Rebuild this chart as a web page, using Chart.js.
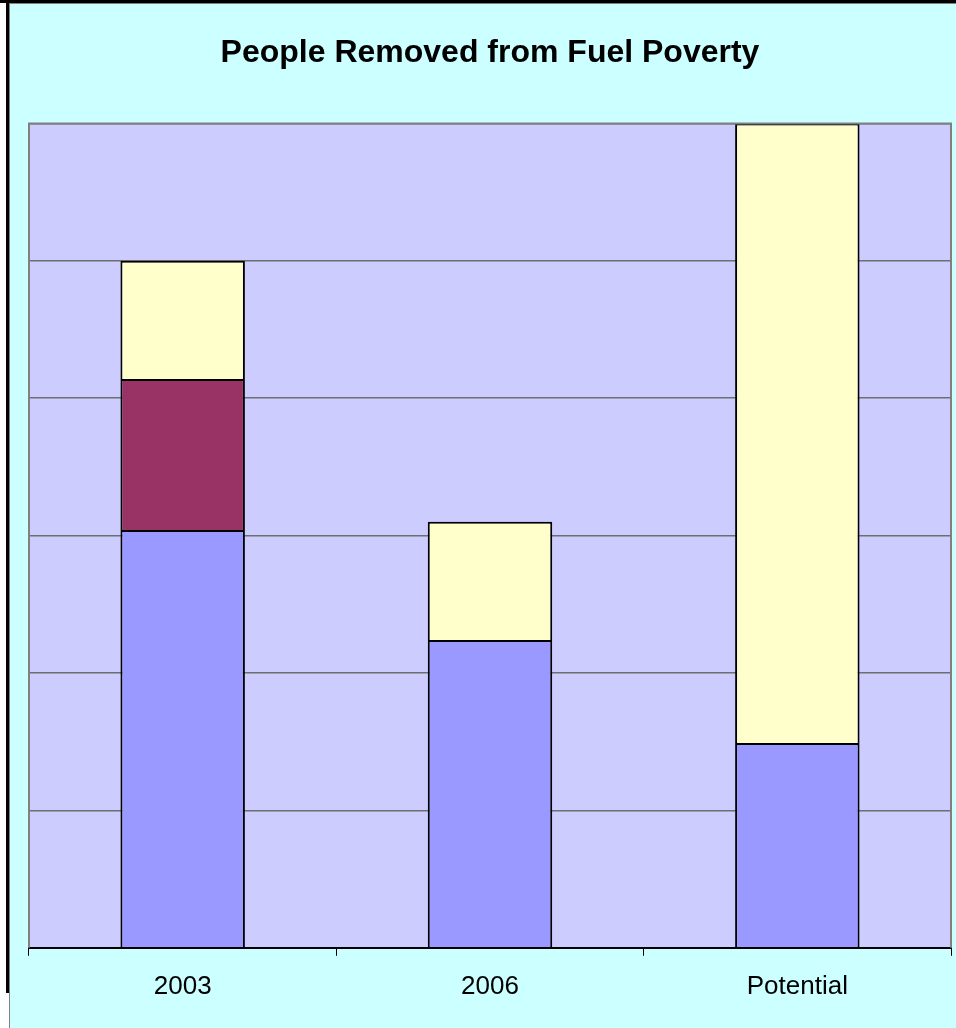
<!DOCTYPE html>
<html>
<head>
<meta charset="utf-8">
<title>People Removed from Fuel Poverty</title>
<script src="https://cdn.jsdelivr.net/npm/chart.js@4/dist/chart.umd.min.js"></script>
<style>
  html, body { margin: 0; padding: 0; background: #ffffff; }
  #topEdge { position: absolute; left: 0; top: 0; width: 956px; height: 3px; background: #000; }
  #leftEdge { position: absolute; left: 6px; top: 0; width: 3px; height: 993px; background: #000; }
  #frame {
    position: absolute; left: 9px; top: 3px;
    border-left: 1px solid #808080; border-top: 1px solid #808080;
    background: #ccffff;
  }
  canvas { display: block; }
</style>
</head>
<body>
<div id="topEdge"></div>
<div id="leftEdge"></div>
<div id="frame"><canvas id="myChart" width="946" height="1024"></canvas></div>
<script>
// categories and stacked series (one gridline = 1 unit)
const years = ['2003', '2006', 'Potential'];
const baseValues = [3.04, 2.24, 1.49];
const middleValues = [1.1, 0, 0];
const topValues = [0.86, 0.86, 4.51];
const yTicks = [0, 1, 2, 3, 4, 5, 6];

const colours = ['#9999ff', '#993366', '#ffffcc'];

// fills and outlines the plot area like the old spreadsheet chart
const plotBackground = {
    id: 'plotBackground',
    beforeDraw(chart) {
        const a = chart.chartArea;
        const ctx = chart.ctx;
        ctx.save();
        ctx.fillStyle = '#ccccff';
        ctx.fillRect(a.left, a.top, a.right - a.left, a.bottom - a.top);
        ctx.restore();
    },
    afterDatasetsDraw(chart) {
        const a = chart.chartArea;
        const ctx = chart.ctx;
        ctx.save();
        ctx.strokeStyle = '#808080';
        ctx.lineWidth = 2;
        ctx.beginPath();
        ctx.moveTo(a.left, a.bottom);
        ctx.lineTo(a.left, a.top);
        ctx.lineTo(a.right, a.top);
        ctx.lineTo(a.right, a.bottom);
        ctx.stroke();
        ctx.restore();
    }
};

function makeSet(label, values, idx) {
    return {
        label: label,
        data: values,
        backgroundColor: colours[idx],
        borderColor: '#000000',
        borderWidth: 2,
        borderSkipped: 'start',
        categoryPercentage: 1,
        barPercentage: 0.405
    };
}

const ctx = document.getElementById('myChart');
new Chart(ctx, {
    type: 'bar',
    data: {
        labels: years,
        datasets: [
            makeSet('Series 1', baseValues, 0),
            makeSet('Series 2', middleValues, 1),
            makeSet('Series 3', topValues, 2)
        ]
    },
    options: {
        responsive: false,
        animation: false,
        layout: { padding: { left: 19, right: 5, top: 0, bottom: 11 } },
        plugins: {
            legend: { display: false },
            tooltip: { enabled: false },
            title: {
                display: true,
                text: 'People Removed from Fuel Poverty',
                color: '#000000',
                font: { family: 'Liberation Sans, Arial, sans-serif', size: 32, weight: 'bold' },
                padding: { top: 30, bottom: 51 }
            }
        },
        scales: {
            x: {
                stacked: true,
                grid: { drawOnChartArea: false, drawTicks: true, tickLength: 8, color: '#000000', offset: true },
                border: { display: true, color: '#000000', width: 2 },
                ticks: {
                    color: '#000000',
                    padding: 15,
                    font: { family: 'Liberation Sans, Arial, sans-serif', size: 26 }
                }
            },
            y: {
                stacked: true,
                min: yTicks[0],
                max: yTicks[yTicks.length - 1],
                afterBuildTicks(axis) {
                    axis.ticks = yTicks.map(v => ({ value: v }));
                },
                grid: { color: '#6e6e6e', lineWidth: 1.5, drawTicks: false },
                border: { display: false },
                ticks: { display: false }
            }
        }
    },
    plugins: [plotBackground]
});
</script>
</body>
</html>
